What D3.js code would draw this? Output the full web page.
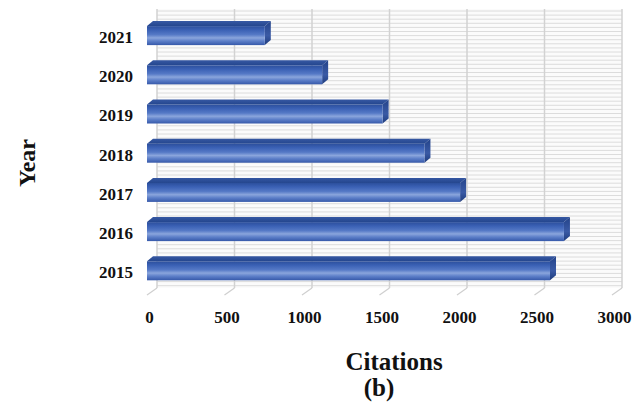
<!DOCTYPE html>
<html>
<head>
<meta charset="utf-8">
<script src="https://cdn.jsdelivr.net/npm/d3@7"></script>
<style>
  html, body { margin: 0; padding: 0; background: #fff; }
  svg { display: block; }
  text { font-family: "Liberation Serif", "Times New Roman", serif; font-weight: bold; fill: #111; }
</style>
</head>
<body>
<svg id="chart" width="637" height="410"></svg>
<script>
// Citations per publication year
const years = ["2015", "2016", "2017", "2018", "2019", "2020", "2021"];
const citations = [2600, 2690, 2020, 1790, 1520, 1130, 760];
const xTicks = [0, 500, 1000, 1500, 2000, 2500, 3000];

const svg = d3.select("#chart");

// Pseudo-3D geometry: front plane and a back wall shifted up/right
const wallShift = { dx: 10, dy: -7 };
const barDepth = { dx: 6, dy: -5 };
const frontFloor = 295;
const wallTop = 9;

const x = d3.scaleLinear().domain([0, 3000]).range([147, 612]);
const y = d3.scaleBand()
  .domain(years.slice().reverse())
  .range([16, 290.4])
  .paddingInner(0.515)
  .paddingOuter(0.2575);

const wallLeft = x(0) + wallShift.dx;
const wallRight = x(3000) + wallShift.dx;
const wallBottom = frontFloor + wallShift.dy;

// Back wall with fine horizontal rules
const wall = svg.append("g");
wall.append("rect")
  .attr("x", wallLeft).attr("y", wallTop)
  .attr("width", wallRight - wallLeft).attr("height", wallBottom - wallTop)
  .attr("fill", "#fbfbfb");
wall.selectAll("line.minor")
  .data(d3.range(wallTop + 2, wallBottom, 4.1))
  .join("line")
  .attr("class", "minor")
  .attr("x1", wallLeft).attr("x2", wallRight)
  .attr("y1", d => d).attr("y2", d => d)
  .attr("stroke", "#dcdcdc").attr("stroke-width", 1);

// Major vertical gridlines on the wall
wall.selectAll("line.major")
  .data(xTicks)
  .join("line")
  .attr("class", "major")
  .attr("x1", d => x(d) + wallShift.dx).attr("x2", d => x(d) + wallShift.dx)
  .attr("y1", wallTop).attr("y2", wallBottom)
  .attr("stroke", "#d2d2d2").attr("stroke-width", 1.5);

// Floor tick rules running from the wall to the front plane
wall.selectAll("line.floor")
  .data(xTicks)
  .join("line")
  .attr("class", "floor")
  .attr("x1", d => x(d) + wallShift.dx).attr("y1", wallBottom)
  .attr("x2", d => x(d)).attr("y2", frontFloor)
  .attr("stroke", "#cfcfcf").attr("stroke-width", 1.2);

// Gradients for the bar faces
const defs = svg.append("defs");
const frontGrad = defs.append("linearGradient")
  .attr("id", "barFront").attr("x1", 0).attr("y1", 0).attr("x2", 0).attr("y2", 1);
[
  [0, "#2c4f9c"], [0.2, "#3a60b4"], [0.45, "#5579c6"],
  [0.62, "#8aa5dc"], [0.78, "#5e80c9"], [1, "#3659aa"]
].forEach(([o, c]) => frontGrad.append("stop").attr("offset", o).attr("stop-color", c));

const topGrad = defs.append("linearGradient")
  .attr("id", "barTop").attr("x1", 0).attr("y1", 0).attr("x2", 0).attr("y2", 1);
[[0, "#3658a3"], [1, "#24468e"]]
  .forEach(([o, c]) => topGrad.append("stop").attr("offset", o).attr("stop-color", c));

const sideGrad = defs.append("linearGradient")
  .attr("id", "barSide").attr("x1", 0).attr("y1", 0).attr("x2", 0).attr("y2", 1);
[[0, "#23438a"], [0.6, "#3a5aa5"], [1, "#1f3c7c"]]
  .forEach(([o, c]) => sideGrad.append("stop").attr("offset", o).attr("stop-color", c));

// Bars: top face, end face, then front face
const data = years.map((yr, i) => ({ year: yr, value: citations[i] }));
const bars = svg.append("g").selectAll("g.bar")
  .data(data)
  .join("g")
  .attr("class", "bar");

bars.append("path")
  .attr("fill", "url(#barTop)")
  .attr("d", d => {
    const x0 = x(0), x1 = x(d.value), y0 = y(d.year);
    return `M${x0},${y0} L${x0 + barDepth.dx},${y0 + barDepth.dy} L${x1 + barDepth.dx},${y0 + barDepth.dy} L${x1},${y0} Z`;
  });

bars.append("path")
  .attr("fill", "url(#barSide)")
  .attr("d", d => {
    const x1 = x(d.value), y0 = y(d.year), y1 = y0 + y.bandwidth();
    return `M${x1},${y0} L${x1 + barDepth.dx},${y0 + barDepth.dy} L${x1 + barDepth.dx},${y1 + barDepth.dy} L${x1},${y1} Z`;
  });

bars.append("rect")
  .attr("fill", "url(#barFront)")
  .attr("x", x(0))
  .attr("y", d => y(d.year))
  .attr("width", d => x(d.value) - x(0))
  .attr("height", y.bandwidth());

// Value axis labels
const xAxis = d3.axisBottom(x).tickValues(xTicks).tickSize(0).tickPadding(0).tickFormat(d3.format("d"));
const xg = svg.append("g").attr("transform", `translate(2,${frontFloor + 28})`).call(xAxis);
xg.select(".domain").remove();
xg.selectAll("text").attr("dy", 0).style("font-size", "17px").style("font-family", "Liberation Serif, serif").style("font-weight", "bold").attr("fill", "#111");

// Year labels
const yAxis = d3.axisLeft(y).tickSize(0).tickPadding(0);
const yg = svg.append("g").attr("transform", "translate(133,2)").call(yAxis);
yg.select(".domain").remove();
yg.selectAll("text").style("font-size", "17px").style("font-family", "Liberation Serif, serif").style("font-weight", "bold").attr("fill", "#111");

// Axis titles
svg.append("text")
  .attr("x", 394).attr("y", 370)
  .attr("text-anchor", "middle")
  .style("font-size", "25px")
  .text("Citations");

svg.append("text")
  .attr("x", 379).attr("y", 396)
  .attr("text-anchor", "middle")
  .style("font-size", "25px")
  .text("(b)");

svg.append("text")
  .attr("transform", "translate(35,163) rotate(-90)")
  .attr("text-anchor", "middle")
  .style("font-size", "24px")
  .text("Year");
</script>
</body>
</html>
